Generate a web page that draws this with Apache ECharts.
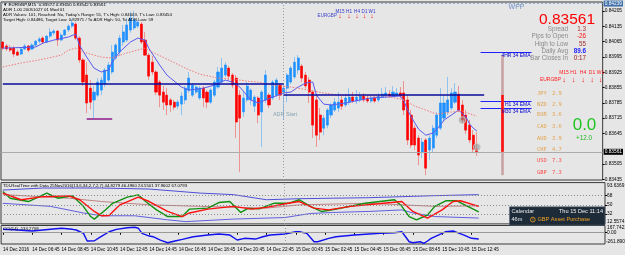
<!DOCTYPE html>
<html>
<head>
<meta charset="utf-8">
<script src="https://cdn.jsdelivr.net/npm/echarts@6/dist/echarts.min.js"></script>
<style>
  html, body { margin: 0; padding: 0; background: #e6e6e6; }
  #chart { width: 625px; height: 255px; }
</style>
</head>
<body>
<div id="chart"></div>
<script>
// EURGBP M15 bars (bar 0 = 14 Dec 04:45)
const opens = [0.84063,0.84045,0.84035,0.84035,0.84017,0.84008,0.84031,0.84045,0.84031,0.84049,
  0.84067,0.84081,0.84063,0.84090,0.84105,0.84113,0.84072,0.84095,0.84118,0.84136,
  0.84145,0.84081,0.83981,0.83912,0.83852,0.83798,0.83820,0.83843,0.83871,0.83889,
  0.83926,0.83990,0.84017,0.84063,0.84072,0.84118,0.84127,0.84136,0.84145,0.84072,
  0.84003,0.83971,0.83926,0.83880,0.83834,0.83820,0.83798,0.83788,0.83770,0.83779,
  0.83798,0.83843,0.83820,0.83834,0.83807,0.83852,0.83834,0.83788,0.83820,0.83857,
  0.83880,0.83912,0.83944,0.83912,0.83898,0.83820,0.83743,0.83798,0.83798,0.83770,
  0.83807,0.83743,0.83798,0.83820,0.83807,0.83820,0.83866,0.83834,0.83852,0.83880,
  0.83903,0.83935,0.83953,0.83912,0.83889,0.83834,0.83798,0.83729,0.83669,0.83683,
  0.83729,0.83752,0.83761,0.83798,0.83775,0.83788,0.83811,0.83793,0.83798,0.83816,
  0.83807,0.83793,0.83807,0.83798,0.83811,0.83816,0.83825,0.83816,0.83820,0.83830,
  0.83830,0.83798,0.83729,0.83669,0.83624,0.83560,0.83615,0.83569,0.83578,0.83637,
  0.83669,0.83715,0.83743,0.83761,0.83788,0.83825,0.83775,0.83729,0.83683,0.83637,
  0.83572];
const closes = [0.84035,0.84031,0.84026,0.84008,0.84003,0.84031,0.84045,0.84026,0.84049,0.84067,
  0.84077,0.84063,0.84090,0.84109,0.84113,0.84072,0.84095,0.84118,0.84136,0.84150,
  0.84081,0.83981,0.83880,0.83784,0.83788,0.83834,0.83880,0.83889,0.83935,0.83958,
  0.84017,0.84049,0.84081,0.84109,0.84141,0.84173,0.84164,0.84154,0.84063,0.84003,
  0.83907,0.83926,0.83834,0.83820,0.83788,0.83775,0.83775,0.83765,0.83788,0.83816,
  0.83852,0.83898,0.83866,0.83857,0.83852,0.83807,0.83788,0.83843,0.83880,0.83926,
  0.83944,0.83958,0.83907,0.83866,0.83697,0.83715,0.83807,0.83862,0.83843,0.83811,
  0.83729,0.83834,0.83912,0.83775,0.83880,0.83889,0.83820,0.83852,0.83912,0.83944,
  0.83971,0.83990,0.83898,0.83862,0.83834,0.83683,0.83637,0.83651,0.83715,0.83752,
  0.83775,0.83788,0.83788,0.83770,0.83807,0.83811,0.83793,0.83811,0.83816,0.83798,
  0.83793,0.83807,0.83793,0.83816,0.83825,0.83830,0.83816,0.83834,0.83830,0.83816,
  0.83752,0.83615,0.83592,0.83592,0.83546,0.83605,0.83486,0.83624,0.83669,0.83729,
  0.83784,0.83784,0.83798,0.83830,0.83834,0.83752,0.83706,0.83660,0.83615,0.83573,
  0.83561];
const lows = [0.84026,0.84022,0.84017,0.83994,0.83999,0.84003,0.84026,0.84017,0.84026,0.84045,
  0.84058,0.84054,0.84058,0.84081,0.84095,0.84045,0.84067,0.84090,0.84109,0.84127,
  0.84072,0.83967,0.83862,0.83738,0.83756,0.83715,0.83811,0.83820,0.83857,0.83880,
  0.83916,0.83981,0.83999,0.84045,0.84063,0.84105,0.84118,0.84127,0.84054,0.83999,
  0.83889,0.83912,0.83820,0.83765,0.83752,0.83729,0.83743,0.83752,0.83756,0.83729,
  0.83779,0.83830,0.83811,0.83825,0.83798,0.83765,0.83761,0.83779,0.83811,0.83848,
  0.83871,0.83903,0.83889,0.83852,0.83624,0.83468,0.83720,0.83788,0.83775,0.83743,
  0.83692,0.83583,0.83784,0.83761,0.83798,0.83811,0.83798,0.83706,0.83788,0.83871,
  0.83894,0.83916,0.83880,0.83852,0.83784,0.83624,0.83583,0.83615,0.83637,0.83669,
  0.83715,0.83743,0.83743,0.83752,0.83765,0.83775,0.83784,0.83779,0.83788,0.83788,
  0.83784,0.83784,0.83784,0.83788,0.83807,0.83807,0.83807,0.83811,0.83811,0.83807,
  0.83729,0.83592,0.83578,0.83569,0.83500,0.83532,0.83454,0.83523,0.83560,0.83624,
  0.83660,0.83697,0.83729,0.83752,0.83779,0.83743,0.83688,0.83642,0.83601,0.83555,
  0.83542];
const highs = [0.84067,0.84054,0.84049,0.84045,0.84026,0.84040,0.84054,0.84049,0.84058,0.84072,
  0.84086,0.84090,0.84095,0.84127,0.84122,0.84118,0.84105,0.84122,0.84145,0.84168,
  0.84154,0.84090,0.83990,0.83971,0.83889,0.83862,0.83898,0.83903,0.83944,0.83971,
  0.84049,0.84058,0.84095,0.84141,0.84173,0.84200,0.84205,0.84164,0.84154,0.84109,
  0.84013,0.83999,0.83935,0.83889,0.83862,0.83852,0.83807,0.83798,0.83798,0.83834,
  0.83862,0.83926,0.83875,0.83866,0.83862,0.83862,0.83843,0.83852,0.83889,0.83949,
  0.83990,0.83971,0.83953,0.83921,0.83912,0.83843,0.83834,0.83880,0.83852,0.83820,
  0.83816,0.83843,0.83935,0.83830,0.83889,0.83898,0.83875,0.83871,0.83921,0.83953,
  0.83994,0.84003,0.83962,0.83926,0.83903,0.83843,0.83820,0.83761,0.83729,0.83761,
  0.83784,0.83807,0.83834,0.83816,0.83825,0.83852,0.83834,0.83843,0.83834,0.83830,
  0.83820,0.83816,0.83820,0.83830,0.83852,0.83857,0.83843,0.83862,0.83852,0.83857,
  0.83884,0.83820,0.83752,0.83683,0.83637,0.83624,0.83624,0.83637,0.83683,0.83743,
  0.83852,0.83820,0.83903,0.83852,0.83875,0.83862,0.83798,0.83752,0.83706,0.83660,
  0.83650];

// moving averages on the price chart, sampled [bar, price]
const fastMa = [[0,0.84035],[9,0.84040],[11,0.84058],[14,0.84072],[18,0.84086],[20,0.84100],[21,0.84049],
  [23,0.83994],[25,0.83944],[27,0.83926],[29,0.83935],[30,0.83971],[32,0.84017],[35,0.84063],[37,0.84081],
  [39,0.84072],[40,0.84035],[43,0.83958],[45,0.83912],[46,0.83898],[49,0.83857],[51,0.83843],[55,0.83852],
  [58,0.83866],[61,0.83889],[63,0.83880],[65,0.83857],[68,0.83798],[70,0.83784],[74,0.83811],[77,0.83830],
  [79,0.83834],[81,0.83857],[83,0.83875],[85,0.83880],[86,0.83820],[88,0.83779],[90,0.83775],[94,0.83784],
  [98,0.83798],[101,0.83807],[105,0.83811],[109,0.83816],[110,0.83793],[111,0.83752],[112,0.83720],
  [114,0.83665],[116,0.83637],[118,0.83647],[120,0.83683],[121,0.83706],[123,0.83729],[125,0.83752],
  [127,0.83720],[128,0.83688],[129,0.83669],[130,0.83656]];
const slowMa = [[0,0.83949],[5,0.83967],[10,0.83981],[16,0.84003],[18,0.84026],[20,0.84035],[22,0.84017],
  [24,0.84008],[27,0.83994],[30,0.83990],[34,0.84013],[37,0.84026],[39,0.84035],[41,0.84017],[45,0.83985],
  [50,0.83944],[54,0.83916],[59,0.83898],[63,0.83894],[67,0.83884],[70,0.83880],[74,0.83866],[79,0.83857],
  [84,0.83843],[88,0.83830],[92,0.83820],[100,0.83816],[105,0.83816],[110,0.83798],[113,0.83770],
  [116,0.83752],[119,0.83733],[123,0.83743],[126,0.83747],[130,0.83724]];

// TDI sub-window, sampled [bar, value]
const tdiGreen = [[0,76],[2,63],[7,56.5],[12,73],[15,63],[19,67.6],[22,47],[24,27],[25,22],[28,40],[30,53],
  [34,65],[37,69.6],[39,56.5],[42,40],[45,27],[49,27],[51,41.6],[56,43.5],[59,54.5],[62,56.5],[65,35],
  [67,43],[70,42],[74,53],[78,53],[81,60],[84,47],[87,37],[90,40],[99,53],[107,60],[109,47],[111,27],
  [113,20.6],[116,30],[118,47],[121,58],[124,58],[127,47],[130,36]];
const tdiRed = [[0,73],[5,60],[11,66],[18,67.6],[21,60],[25,37],[27,28.5],[29,29],[32,50],[37,65],[40,56.5],
  [45,37],[49,27],[51,34],[56,41.6],[63,47],[68,41.6],[72,45],[78,53],[81,56.5],[85,43.5],[89,40],[95,47],
  [104,53],[109,56.5],[112,37],[116,24],[120,40],[123,56.5],[125,58],[130,47]];
const tdiUpper = [[0,79],[11,83],[27,83],[40,81],[54,73],[63,70],[72,60],[81,62],[90,63],[100,64],[109,66],[118,68],[130,70]];
const tdiLower = [[0,53],[13,47],[22,34],[27,28.5],[36,28.5],[45,20.6],[50,17],[63,22],[77,25],[84,33],[90,35],[100,37],[109,40],[112,34],[118,27],[130,24]];
const tdiBase = [[0,70],[18,63],[27,56.5],[40,50],[54,47],[72,43.5],[81,50],[100,53],[118,47],[130,48]];
const tdiLevels = [32, 50, 68];

// CCI sub-window, sampled [bar, value]
const cci = [[0,79],[3,70],[8,40],[13,79],[16,103],[19,79],[20,63],[22,-14],[23,-193],[25,-186],[26,-130],
  [27,-77],[29,23],[31,79],[34,117],[36,126],[37,103],[38,-14],[40,-77],[41,-93],[43,-170],[45,-233],
  [47,-193],[49,-154],[52,-93],[56,-54],[59,-30],[62,-54],[64,-170],[66,-130],[69,-147],[71,-93],[73,-54],
  [77,-30],[80,23],[81,23],[83,-14],[85,-210],[86,-210],[89,-130],[91,-93],[96,-54],[100,-30],[103,-14],
  [107,0],[109,23],[110,-93],[111,-210],[112,-233],[114,-210],[115,-247],[116,-193],[117,-130],[120,-14],
  [121,23],[123,40],[124,9],[126,-54],[128,-130],[130,-147]];

// axis ticks
const timeLabels = ['14 Dec 2016','14 Dec 06:45','14 Dec 08:45','14 Dec 10:45','14 Dec 12:45','14 Dec 14:45',
  '14 Dec 16:45','14 Dec 18:45','14 Dec 20:45','14 Dec 22:45','15 Dec 00:45','15 Dec 02:45','15 Dec 04:45',
  '15 Dec 06:45','15 Dec 08:45','15 Dec 10:45','15 Dec 12:45'];
const priceTicks = [0.84205,0.84135,0.84065,0.83995,0.83925,0.83855,0.83785,0.83715,0.83645,0.83505,0.83435];

// levels drawn by the indicators
const lastPrice = 0.83561;
const topLevel = 0.84239;
const prevDayOpen = 0.83871;
const dayOpen = 0.83821;
const ema4h = 0.84016, emaH1 = 0.83794, emaM30 = 0.83760;
const prevLow = 0.83714;
const dayHigh = 0.84003, dayLow = 0.83454;
const daySplit = 77;
const tradeMarks = [[126, 0.83706], [130, 0.83583]];

const currencies = ['JPY','NZD','EUR','CAD','AUD','CHF','USD','GBP'];
const strengths = ['2.9','2.9','3.6','3.6','3.9','4.7','7.3','7.3'];

const slots = 165;
const categories = [];
for (let i = 0; i < slots; i++) {
    categories.push(i % 8 === 0 && timeLabels[i / 8] ? timeLabels[i / 8] : '');
}

const F = 'Liberation Sans';
const chart = echarts.init(document.getElementById('chart'), null, { renderer: 'canvas' });

const txt = (x, y, s, fs, color, extra) => ({
    type: 'text', x: x, y: y, silent: true, z: 100,
    style: Object.assign({ text: s, fontSize: fs, fontFamily: F, fill: color, verticalAlign: 'middle' }, extra || {})
});

const seg = (x1, x2, y1, y2, style, label) => [
    { coord: [x1, y1], lineStyle: style, label: label || { show: false } },
    { coord: [x2, y2] }
];

const emaLabel = (name) => ({
    show: true, position: 'insideEndBottom', formatter: name, fontSize: 5, fontFamily: F,
    color: '#0000cc', distance: 1
});

const gridBase = { show: true, borderColor: '#3a3a3a', borderWidth: 1, backgroundColor: 'transparent', left: 1, right: 20 };

const xAxisBase = (gridIndex) => ({
    type: 'category', gridIndex: gridIndex, data: categories, boundaryGap: true,
    axisLine: { show: false }, axisTick: { show: false }, axisLabel: { show: false }, splitLine: { show: false }
});

const labelStyle = { fontSize: 4.8, fontFamily: F, color: '#000', margin: 2 };

const option = {
    backgroundColor: '#e6e6e6',
    animation: false,
    grid: [
        Object.assign({ top: 2, height: 178 }, gridBase),
        Object.assign({ top: 182.6, height: 41.3 }, gridBase),
        Object.assign({ top: 225.5, height: 18.5 }, gridBase)
    ],
    xAxis: [
        xAxisBase(0),
        xAxisBase(1),
        Object.assign(xAxisBase(2), {
            axisTick: { show: true, length: 2, alignWithLabel: true, interval: (i, v) => v !== '', lineStyle: { color: '#000' } },
            axisLabel: { show: true, interval: (i, v) => v !== '', align: 'left', fontSize: 4.6, fontFamily: F, color: '#000', margin: 3 }
        })
    ],
    yAxis: [
        {
            type: 'value', gridIndex: 0, position: 'right', min: 0.83432, max: 0.84246,
            axisLine: { show: false }, splitLine: { show: false },
            axisTick: { show: true, length: 2, customValues: priceTicks, lineStyle: { color: '#000' } },
            axisLabel: Object.assign({ customValues: priceTicks, formatter: (v) => v.toFixed(5) }, labelStyle)
        },
        {
            type: 'value', gridIndex: 1, position: 'right', min: 12.5574, max: 93.6369,
            axisLine: { show: false }, splitLine: { show: false },
            axisTick: { show: true, length: 2, customValues: tdiLevels, lineStyle: { color: '#000' } },
            axisLabel: Object.assign({ customValues: tdiLevels, formatter: (v) => String(v) }, labelStyle)
        },
        {
            type: 'value', gridIndex: 2, position: 'right', min: -261.8909, max: 167.7421,
            axisLine: { show: false }, splitLine: { show: false },
            axisTick: { show: true, length: 2, customValues: [0], lineStyle: { color: '#000' } },
            axisLabel: Object.assign({ customValues: [0], formatter: () => '0.00' }, labelStyle)
        }
    ],
    series: [
        // pale layer: full range so the wicks come out light
        {
            name: 'wicks', type: 'candlestick', xAxisIndex: 0, yAxisIndex: 0, barWidth: 1.4, z: 2,
            data: opens.map((o, i) => [o, closes[i], lows[i], highs[i]]),
            itemStyle: { color: '#9ccbf2', color0: '#f3a0a0', borderColor: '#84bdee', borderColor0: '#ee8888', borderWidth: 0.9 }
        },
        // solid bodies on top
        {
            name: 'bodies', type: 'candlestick', xAxisIndex: 0, yAxisIndex: 0, barWidth: 2.6, z: 3,
            data: opens.map((o, i) => [o, closes[i], Math.min(o, closes[i]), Math.max(o, closes[i])]),
            itemStyle: { color: '#1e90ff', color0: '#ff0000', borderColor: '#1e90ff', borderColor0: '#ff0000', borderWidth: 0.5 },
            markLine: {
                silent: true, symbol: ['none', 'none'], animation: false, precision: 5, label: { show: false },
                data: [
                    { xAxis: daySplit, lineStyle: { color: '#9a9a9a', type: [1, 2], width: 1 } },
                    {
                        yAxis: lastPrice, lineStyle: { color: '#ababab', type: 'solid', width: 1 },
                        label: { show: true, position: 'end', formatter: lastPrice.toFixed(5), backgroundColor: '#000',
                                 color: '#fff', fontSize: 4.8, fontFamily: F, padding: [1, 1, 0, 1], distance: 1 }
                    },
                    {
                        yAxis: topLevel, lineStyle: { color: '#8fb3d6', type: [2, 2], width: 1 },
                        label: { show: true, position: 'end', formatter: topLevel.toFixed(5), backgroundColor: '#3f6fa8',
                                 color: '#fff', fontSize: 4.8, fontFamily: F, padding: [1, 1, 0, 1], distance: 1 }
                    },
                    seg(0, daySplit, prevDayOpen, prevDayOpen, { color: '#0b0b9c', width: 1.6, type: 'solid' }),
                    seg(daySplit, 132, dayOpen, dayOpen, { color: '#0b0b9c', width: 1.6, type: 'solid' }),
                    seg(131, 145, ema4h, ema4h, { color: '#2020ff', width: 1, type: 'solid' }, emaLabel('4HR 34 EMA')),
                    seg(131, 145, emaH1, emaH1, { color: '#2020ff', width: 1, type: 'solid' }, emaLabel('H1 34 EMA')),
                    seg(131, 145, emaM30, emaM30, { color: '#2020ff', width: 1, type: 'solid' }, emaLabel('M30 34 EMA')),
                    seg(23, 30, prevLow, prevLow, { color: '#8b1a8b', width: 1.5, type: 'solid' }),
                    seg(137, 137, dayHigh, dayLow, { color: '#c9a3a3', width: 2.6, type: 'solid' }),
                    seg(137, 137, dayOpen, lastPrice, { color: '#ff1010', width: 2.6, type: 'solid' })
                ]
            }
        },
        {
            name: 'fast', type: 'line', xAxisIndex: 0, yAxisIndex: 0, data: fastMa, symbol: 'none', z: 4,
            lineStyle: { color: '#5a5af0', width: 1 }
        },
        {
            name: 'slow', type: 'line', xAxisIndex: 0, yAxisIndex: 0, data: slowMa, symbol: 'none', z: 4,
            lineStyle: { color: '#f07a7a', width: 1, type: [1.5, 1.5] }
        },
        {
            name: 'trades', type: 'scatter', xAxisIndex: 0, yAxisIndex: 0, data: tradeMarks, symbolSize: 7, z: 5,
            itemStyle: { color: 'rgba(150,150,150,0.75)', borderColor: '#d0d0d0', borderWidth: 1 }
        },
        // TDI
        {
            type: 'line', xAxisIndex: 1, yAxisIndex: 1, data: tdiUpper, symbol: 'none',
            lineStyle: { color: '#4f4fd8', width: 1 },
            markLine: {
                silent: true, symbol: ['none', 'none'], label: { show: false },
                data: tdiLevels.map((v) => ({ yAxis: v, lineStyle: { color: '#8a8a8a', type: [1, 2], width: 1 } }))
                    .concat([{ xAxis: daySplit, lineStyle: { color: '#9a9a9a', type: [1, 2], width: 1 } }])
            }
        },
        { type: 'line', xAxisIndex: 1, yAxisIndex: 1, data: tdiLower, symbol: 'none', lineStyle: { color: '#6060e0', width: 1 } },
        { type: 'line', xAxisIndex: 1, yAxisIndex: 1, data: tdiBase, symbol: 'none', lineStyle: { color: '#c08484', width: 1 } },
        { type: 'line', xAxisIndex: 1, yAxisIndex: 1, data: tdiGreen, symbol: 'none', lineStyle: { color: '#119011', width: 1.4 } },
        { type: 'line', xAxisIndex: 1, yAxisIndex: 1, data: tdiRed, symbol: 'none', lineStyle: { color: '#ff1010', width: 1.4 } },
        // CCI
        {
            type: 'line', xAxisIndex: 2, yAxisIndex: 2, data: cci, symbol: 'none', lineStyle: { color: '#1010f0', width: 1.4 },
            markLine: {
                silent: true, symbol: ['none', 'none'], label: { show: false },
                data: [
                    { yAxis: 0, lineStyle: { color: '#9a9a9a', type: 'solid', width: 1 } },
                    { xAxis: daySplit, lineStyle: { color: '#9a9a9a', type: [1, 2], width: 1 } }
                ]
            }
        }
    ],
    graphic: []
};

// texts written by the indicators on the chart
const g = option.graphic;
g.push(txt(3, 5, '\u25BC EURGBP,M15  0.83572 0.83650 0.83542 0.83561', 4.4, '#000'));
g.push(txt(3, 10, 'ADR 1.00 20051027 01 Mod 01', 4.4, '#000'));
g.push(txt(3, 15.3, "ADR Values: 101, Reached: No, Today's Range: 55, T's High: 0.84003, T's Low: 0.83454", 4.3, '#000'));
g.push(txt(3, 20.3, 'Target High: 0.84486, Target Low: 0.82971 / To ADR High: 50, To ADR Low: 59', 4.3, '#000'));

// top MTF arrows
const tfNames = ['M15', 'H1', 'H4', 'D1', 'W1'];
const topXs = [340, 349, 357, 364.5, 372];
tfNames.forEach((n, i) => {
    g.push(txt(topXs[i], 11.7, n, 4.6, '#3333cc', { align: 'center' }));
    g.push(txt(topXs[i], 16, '\u2193', 7, '#ff0000', { align: 'center', fontWeight: 'bold' }));
});
g.push(txt(337, 15.8, 'EURGBP', 4.6, '#4444cc', { align: 'right' }));

// right info block
g.push(txt(516.5, 7, 'WPP', 7, '#6f8fc4', { align: 'center' }));
g.push(txt(595, 19.5, '0.83561', 15.5, '#ff0000', { align: 'right' }));
const statNames = ['Spread', 'Pips to Open', 'High to Low', 'Daily Avg', 'Bar Closes In'];
const statValues = ['1.3', '-26', '55', '89.6', '0:17'];
const statColors = ['#b03030', '#ff1010', '#a03030', '#1a1aff', '#a02020'];
const statYs = [29.3, 36.7, 43.8, 51, 58.6];
statNames.forEach((n, i) => {
    g.push(txt(568, statYs[i], n, 6.3, '#8a8a8a', { align: 'right' }));
    g.push(txt(586, statYs[i], statValues[i], 6.3, statColors[i], { align: 'right', fontWeight: i === 3 ? 'bold' : 'normal' }));
});

const rightXs = [564, 573.5, 583, 592, 600.5];
tfNames.forEach((n, i) => {
    g.push(txt(rightXs[i], 72.8, n, 5, '#ff2020', { align: 'center' }));
    g.push(txt(rightXs[i], 79.6, '\u2193', 7.5, '#ff0000', { align: 'center', fontWeight: 'bold' }));
});
g.push(txt(561, 79.6, 'EURGBP', 5, '#ff2020', { align: 'right' }));

// currency strength list
const curYs = [93.3, 104.2, 115, 126.6, 138.2, 149.8, 161, 172.6];
currencies.forEach((c, i) => {
    const col = i < 6 ? '#e2a24c' : '#ff4a4a';
    g.push(txt(537, curYs[i], c, 5.4, col, { fontFamily: 'DejaVu Sans Mono' }));
    g.push(txt(552, curYs[i], strengths[i], 5.4, col, { fontFamily: 'DejaVu Sans Mono' }));
});
g.push(txt(584.5, 125, '0.0', 17, '#22c322', { align: 'center' }));
g.push(txt(584, 138.3, '+12.0', 6.3, '#22b822', { align: 'center' }));

g.push(txt(273, 115, 'ADR Start', 5.4, '#88a3b3'));

// sub-window titles and range labels
g.push(txt(3, 185.8, 'TDI-RealTime with Data 25Nov2016(13,6,34,2,7,2,7) 44.8279 46.4960 24.5501 37.9602 67.0793', 4.3, '#000'));
g.push(txt(3, 229, 'CCI(14) -134.2708', 4.3, '#000'));
g.push(txt(607, 185.2, '93.6369', 4.8, '#000'));
g.push(txt(607, 221.5, '12.5574', 4.8, '#000'));
g.push(txt(607, 227.8, '167.7421', 4.8, '#000'));
g.push(txt(606, 241.4, '-261.8909', 4.8, '#000'));

// calendar box
g.push({ type: 'rect', silent: true, z: 99, shape: { x: 509.5, y: 206.8, width: 95.5, height: 18.4 },
    style: { fill: '#1d2b39', stroke: '#5a6672', lineWidth: 0.6 } });
g.push(txt(511.5, 211, 'Calendar', 5.6, '#e8e8e8'));
g.push(txt(603, 211, 'Thu 15 Dec 11:14', 5.6, '#f0f0f0', { align: 'right' }));
g.push(txt(511.5, 219.6, '46m', 5.6, '#e8e8e8'));
g.push({ type: 'circle', silent: true, z: 101, shape: { cx: 532.8, cy: 219.6, r: 2.4 },
    style: { fill: 'none', stroke: '#f0a020', lineWidth: 0.8 } });
g.push(txt(532.8, 219.7, '!', 4, '#f0a020', { align: 'center', fontWeight: 'bold' }));
g.push(txt(537.5, 219.6, 'GBP Asset Purchase', 5.6, '#f0a020'));

chart.setOption(option);
</script>
</body>
</html>
